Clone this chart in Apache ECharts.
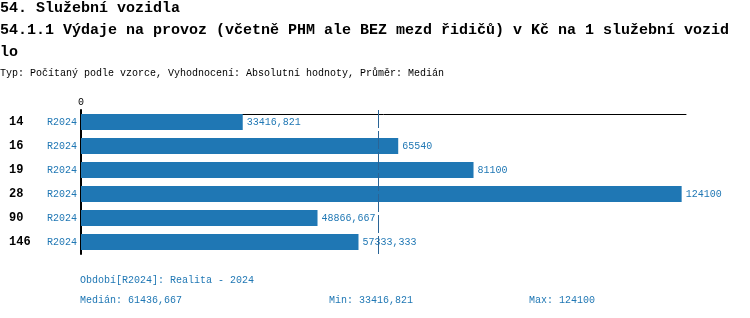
<!DOCTYPE html>
<html>
<head>
<meta charset="utf-8">
<script src="https://cdn.jsdelivr.net/npm/echarts@6/dist/echarts.min.js"></script>
<style>html,body{margin:0;padding:0;background:#fff}#c{width:750px;height:318px}</style>
</head>
<body>
<div id="c"></div>
<script>
var categories = ['14', '16', '19', '28', '90', '146'];
var periods = ['R2024', 'R2024', 'R2024', 'R2024', 'R2024', 'R2024'];
var values = [33416.821, 65540, 81100, 124100, 48866.667, 57333.333];
var medianValue = 61436.667;
var minValue = 33416.821;
var maxValue = 124100;
var axisMax = 125000;
var titleLine1 = '54. Služební vozidla';
var titleLine2 = '54.1.1 Výdaje na provoz (včetně PHM ale BEZ mezd řidičů) v Kč na 1 služební vozid\nlo';
var subtitle = 'Typ: Počítaný podle vzorce, Vyhodnocení: Absolutní hodnoty, Průměr: Medián';
var periodText = 'Období[R2024]: Realita - 2024';

var MONO = '"Liberation Mono","DejaVu Sans Mono",monospace';
var BLUE = '#1f77b4';
function fmt(v){ return String(v).replace('.', ','); }

var chart = echarts.init(document.getElementById('c'), null, {renderer:'canvas'});
chart.setOption({
  animation: false,
  backgroundColor: '#fff',
  title: [
    {text: titleLine1, left: 0, top: 0, padding: 0,
     textStyle:{fontFamily: MONO, fontSize: 15, fontWeight: 'bold', color:'#000', lineHeight: 16}},
    {text: titleLine2, left: 0, top: 19, padding: 0,
     textStyle:{fontFamily: MONO, fontSize: 15, fontWeight: 'bold', color:'#000', lineHeight: 22}},
    {text: subtitle, left: 0, top: 68, padding: 0,
     textStyle:{fontFamily: MONO, fontSize: 10, fontWeight: 'normal', color:'#000', lineHeight: 10}}
  ],
  grid: {left: 81, top: 110, width: 605, height: 144, containLabel: false},
  xAxis: {
    type: 'value', position: 'top', min: 0, max: axisMax, interval: axisMax,
    offset: -4,
    axisLine: {show: true, lineStyle: {color: '#000', width: 1}},
    axisTick: {show: false},
    splitLine: {show: false},
    axisLabel: {fontFamily: MONO, fontSize: 10, color: '#000', margin: 7,
      formatter: function(v){ return v === 0 ? '0' : ''; }}
  },
  yAxis: {
    type: 'category', inverse: true, data: categories,
    axisLine: {show: true, lineStyle: {color: '#000', width: 2}},
    axisTick: {show: false},
    axisLabel: {
      align: 'left', margin: 72,
      formatter: function(v, i){ return '{a|' + v + '}{b|' + periods[i] + '}'; },
      rich: {
        a: {width: 38, fontFamily: MONO, fontSize: 12, fontWeight: 'bold', color: '#000'},
        b: {fontFamily: MONO, fontSize: 10, color: BLUE}
      }
    }
  },
  series: [
    {
      type: 'line', data: [], z: 1, silent: true,
      markLine: {
        symbol: 'none', silent: true, animation: false,
        label: {show: false},
        lineStyle: {color: '#2a6496', width: 1, type: [18, 3]},
        data: [{xAxis: medianValue}]
      }
    },
    {
      type: 'bar', data: values, z: 3, barWidth: 16,
      itemStyle: {color: BLUE},
      label: {show: true, position: 'right', distance: 4, fontFamily: MONO, fontSize: 10, color: BLUE,
        formatter: function(p){ return fmt(p.value); }}
    }
  ],
  graphic: [
    {type:'text', left: 80, top: 275, style:{text: periodText, font: '10px ' + MONO, fill: BLUE}},
    {type:'text', left: 80, top: 295, style:{text: 'Medián: ' + fmt(medianValue), font: '10px ' + MONO, fill: BLUE}},
    {type:'text', left: 329, top: 295, style:{text: 'Min: ' + fmt(minValue), font: '10px ' + MONO, fill: BLUE}},
    {type:'text', left: 529, top: 295, style:{text: 'Max: ' + fmt(maxValue), font: '10px ' + MONO, fill: BLUE}}
  ]
});
</script>
</body>
</html>
